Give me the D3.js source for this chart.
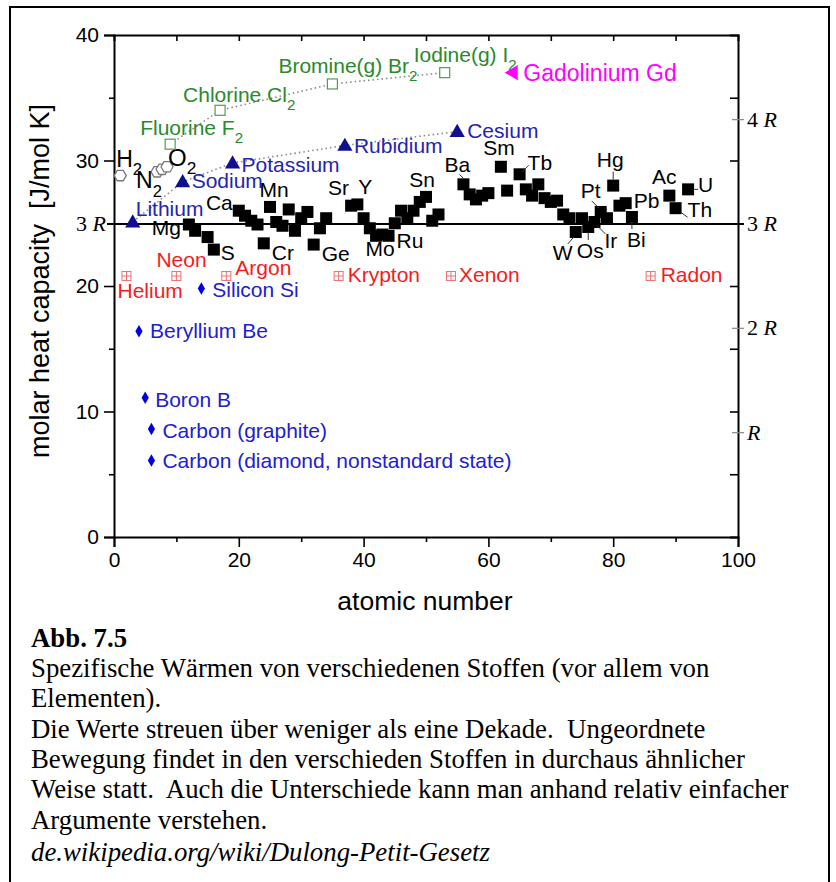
<!DOCTYPE html>
<html><head><meta charset="utf-8">
<script src="https://cdn.jsdelivr.net/npm/d3@7"></script>
<style>body{margin:0;background:#fff}svg{display:block}</style>
</head><body>
<svg id="chart" width="836" height="882"></svg>
<script>
// ---------------- data ----------------
const R = 8.314;
const xTicks = [0, 20, 40, 60, 80, 100];
const yTicks = [0, 10, 20, 30, 40];
const rTicks = [1, 2, 3, 4];
const rTickLabels = ["R", "2 R", "3 R", "4 R"];

// solids (black squares): atomic number, molar heat capacity
const solidZ = [12,13,15,16,20,21,22,23,24,25,26,27,28,29,30,31,32,33,34,38,39,40,41,42,43,44,45,46,47,48,49,50,51,52,56,57,58,59,60,62,63,65,66,67,68,69,70,71,72,73,74,75,76,77,78,79,80,81,82,83,89,90,92];
const solidCp = [24.9,24.4,23.9,22.9,26.0,25.6,25.2,24.9,23.4,26.3,25.1,24.8,26.1,24.4,25.4,25.9,23.3,24.6,25.4,26.4,26.5,25.4,24.6,24.0,24.1,24.0,25.0,26.0,25.4,26.0,26.7,27.1,25.2,25.7,28.1,27.3,26.9,27.2,27.4,29.5,27.6,28.9,27.7,27.2,28.1,27.0,26.7,26.8,25.7,25.4,24.3,25.4,24.7,25.1,25.9,25.4,28.0,26.4,26.6,25.5,27.2,26.2,27.7];
const solidLabelZ = [12,16,20,24,25,32,38,39,42,44,50,56,62,65,80,78,82,89,92,90,74,76,77,83];
const solidLabelText = ["Mg","S","Ca","Cr","Mn","Ge","Sr","Y","Mo","Ru","Sn","Ba","Sm","Tb","Hg","Pt","Pb","Ac","U","Th","W","Os","Ir","Bi"];

// diatomic gases (hexagons)
const gasZ = [1, 6.9, 7.7, 8.5];
const gasCp = [28.8, 29.1, 29.3, 29.5];

// halogens (open green squares)
const halogenZ = [9, 17, 35, 53];
const halogenCp = [31.3, 34.0, 36.1, 37.0];
const halogenNames = ["Fluorine F", "Chlorine Cl", "Bromine(g) Br", "Iodine(g) I"];

// alkali metals (blue triangles)
const alkaliZ = [3, 11, 19, 37, 55];
const alkaliCp = [25.1, 28.3, 29.8, 31.2, 32.3];
const alkaliNames = ["Lithium", "Sodium", "Potassium", "Rubidium", "Cesium"];

// noble gases
const nobleZ = [2, 10, 18, 36, 54, 86];
const nobleCp = [20.8, 20.8, 20.8, 20.8, 20.8, 20.8];
const nobleNames = ["Helium", "Neon", "Argon", "Krypton", "Xenon", "Radon"];

// light solids (blue diamonds)
const lightZ = [14, 4, 5, 6, 6];
const lightCp = [19.8, 16.4, 11.1, 8.6, 6.1];
const lightNames = ["Silicon Si", "Beryllium Be", "Boron B", "Carbon (graphite)", "Carbon (diamond, nonstandard state)"];

// gadolinium
const gdZ = [64];
const gdCp = [37.0];
const gdNames = ["Gadolinium Gd"];

const captionTitle = "Abb. 7.5";
const captionLines = [
  "Spezifische Wärmen von verschiedenen Stoffen (vor allem von",
  "Elementen).",
  "Die Werte streuen über weniger als eine Dekade.\u00a0 Ungeordnete",
  "Bewegung findet in den verschieden Stoffen in durchaus ähnlicher",
  "Weise statt.\u00a0 Auch die Unterschiede kann man anhand relativ einfacher",
  "Argumente verstehen."
];
const captionLink = "de.wikipedia.org/wiki/Dulong-Petit-Gesetz";

// ---------------- layout (pixel offsets of labels from their marker) ----------------
const solidLabelLayout = [
  {dx:-8,dy:10,a:"end"},{dx:7,dy:10,a:"start"},{dx:-6,dy:-1,a:"end"},{dx:8,dy:17,a:"start"},
  {dx:4,dy:-10,a:"middle"},{dx:8,dy:16,a:"start"},{dx:-2,dy:-11,a:"end"},{dx:1,dy:-10,a:"start"},
  {dx:4,dy:20,a:"middle"},{dx:8,dy:12,a:"start"},{dx:-4,dy:-10,a:"middle"},{dx:-6,dy:-12,a:"middle"},
  {dx:-2,dy:-12,a:"middle"},{dx:8,dy:-4,a:"start"},{dx:-3,dy:-19,a:"middle"},{dx:-10,dy:-14,a:"middle"},
  {dx:8,dy:5,a:"start"},{dx:-5,dy:-12,a:"middle"},{dx:10,dy:3,a:"start"},{dx:12,dy:9,a:"start"},
  {dx:-13,dy:28,a:"middle"},{dx:2,dy:31,a:"middle"},{dx:10,dy:26,a:"start"},{dx:-5,dy:30,a:"start"}
];
const leaderLines = { // offsets from marker [x1,y1,x2,y2]
  Tb:[2,-2,9,-9], Hg:[0,-6,0,-14], Pt:[-2,-4,-9,-11], Ir:[2,3,11,12], Bi:[0,5,0,12],
  Os:[0,5,0,13], W:[-2,5,-8,12], Th:[5,4,12,9], U:[6,0,10,0], Ba:[0,-6,-4,-10]
};

// ---------------- drawing ----------------
const svg = d3.select("#chart");
const SANS = "'Liberation Sans', Arial, Helvetica, sans-serif";
const SERIF = "'Liberation Serif', 'Times New Roman', serif";

svg.append("rect").attr("x", 10).attr("y", 7).attr("width", 819).attr("height", 900)
  .attr("fill", "none").attr("stroke", "#000").attr("stroke-width", 2);

const x = d3.scaleLinear().domain([0, 100]).range([114, 738]);
const y = d3.scaleLinear().domain([0, 40]).range([537, 35]);

const g = svg.append("g");

function styleAxis(sel) {
  sel.select(".domain").attr("stroke", "#000").attr("stroke-width", 2);
  sel.selectAll(".tick line").attr("stroke", "#000").attr("stroke-width", 1.6);
  sel.selectAll(".tick text").attr("font-family", SANS).attr("font-size", 21).attr("fill", "#000");
}

// bottom axis
const bottom = g.append("g").attr("transform", `translate(0,${y(0)})`)
  .call(d3.axisBottom(x).tickValues(xTicks).tickSize(10).tickPadding(5).tickFormat(d3.format("d")));
styleAxis(bottom);
g.append("g").attr("transform", `translate(0,${y(0)})`)
  .call(d3.axisBottom(x).tickValues(d3.range(10, 100, 20)).tickSize(5).tickFormat(""))
  .call(s => { s.select(".domain").remove(); s.selectAll("line").attr("stroke", "#000").attr("stroke-width", 1.6); });

// left axis
const left = g.append("g").attr("transform", `translate(${x(0)},0)`)
  .call(d3.axisLeft(y).tickValues(yTicks).tickSize(10).tickPadding(5));
styleAxis(left);
g.append("g").attr("transform", `translate(${x(0)},0)`)
  .call(d3.axisLeft(y).tickValues([5, 15, 25, 35]).tickSize(5).tickFormat(""))
  .call(s => { s.select(".domain").remove(); s.selectAll("line").attr("stroke", "#000").attr("stroke-width", 1.6); });

// top axis (inward ticks)
g.append("g").attr("transform", `translate(0,${y(40)})`)
  .call(d3.axisBottom(x).tickValues(d3.range(10, 100, 10)).tickSize(6).tickFormat(""))
  .call(s => { s.select(".domain").attr("stroke", "#000").attr("stroke-width", 2); s.selectAll("line").attr("stroke", "#000").attr("stroke-width", 1.6); });

// right axis (inward ticks)
g.append("g").attr("transform", `translate(${x(100)},0)`)
  .call(d3.axisLeft(y).tickValues([5, 10, 15, 20, 30, 35]).tickSize(8).tickFormat(""))
  .call(s => { s.select(".domain").attr("stroke", "#000").attr("stroke-width", 2); s.selectAll("line").attr("stroke", "#000").attr("stroke-width", 1.6); });

// R ticks on right
const rg = g.append("g");
rTicks.forEach((k, i) => {
  const yy = y(k * R);
  if (k !== 3) rg.append("line").attr("x1", x(100) - 6).attr("x2", x(100) + 6).attr("y1", yy).attr("y2", yy)
    .attr("stroke", "#888").attr("stroke-width", 1.2);
  const t = rg.append("text").attr("x", x(100) + 9).attr("y", yy + 7)
    .attr("font-family", SERIF).attr("font-size", 22).attr("fill", "#000");
  const parts = rTickLabels[i].split("R");
  if (parts[0]) t.append("tspan").text(parts[0]);
  t.append("tspan").attr("font-style", "italic").text("R");
});

// 3R line
g.append("line").attr("x1", x(0) - 7).attr("x2", x(100) + 6).attr("y1", y(3 * R)).attr("y2", y(3 * R))
  .attr("stroke", "#000").attr("stroke-width", 2);
const t3 = g.append("text").attr("x", x(0) - 8).attr("y", y(3 * R) + 7).attr("text-anchor", "end")
  .attr("font-family", SERIF).attr("font-size", 22);
t3.append("tspan").text("3 ");
t3.append("tspan").attr("font-style", "italic").text("R");

// axis titles
g.append("text").attr("x", x(50) - 1).attr("y", 610).attr("text-anchor", "middle")
  .attr("font-family", SANS).attr("font-size", 26.5).text("atomic number");
g.append("text").attr("transform", `translate(49,${281}) rotate(-90)`).attr("text-anchor", "middle")
  .attr("font-family", SANS).attr("font-size", 27)
  .text("molar heat capacity\u00a0\u00a0[J/mol K]");

// helper: label with optional subscript
function label(px, py, main, sub, opt) {
  const t = g.append("text").attr("x", px).attr("y", py)
    .attr("font-family", SANS).attr("font-size", opt.size || 21).attr("fill", opt.color || "#000")
    .attr("text-anchor", opt.anchor || "start");
  t.append("tspan").text(main);
  if (sub) t.append("tspan").attr("dy", opt.subDy || 8).attr("font-size", (opt.size || 21) * 0.72).text(sub);
  return t;
}

// dotted guide lines
const dotted = d3.line().x(d => x(d[0])).y(d => y(d[1]));
g.append("path").attr("d", dotted(halogenZ.map((z, i) => [z, halogenCp[i]])))
  .attr("fill", "none").attr("stroke", "#8a8a8a").attr("stroke-width", 1.6).attr("stroke-dasharray", "1.5,3");
g.append("path").attr("d", dotted(alkaliZ.map((z, i) => [z, alkaliCp[i]])))
  .attr("fill", "none").attr("stroke", "#8a8a8a").attr("stroke-width", 1.6).attr("stroke-dasharray", "1.5,3");

// solids
const SQ = 12;
g.append("g").selectAll("rect").data(solidZ.map((z, i) => [z, solidCp[i]])).join("rect")
  .attr("x", d => x(d[0]) - SQ / 2).attr("y", d => y(d[1]) - SQ / 2)
  .attr("width", SQ).attr("height", SQ).attr("fill", "#000");

// leader lines + solid labels
solidLabelZ.forEach((z, i) => {
  const cp = solidCp[solidZ.indexOf(z)];
  const px = x(z), py = y(cp);
  const name = solidLabelText[i];
  const L = solidLabelLayout[i];
  if (leaderLines[name]) {
    const l = leaderLines[name];
    g.append("line").attr("x1", px + l[0]).attr("y1", py + l[1]).attr("x2", px + l[2]).attr("y2", py + l[3])
      .attr("stroke", "#333").attr("stroke-width", 1);
  }
  label(px + L.dx, py + L.dy, name, null, {anchor: L.a, size: 21, color: "#000"});
});

// hexagons (diatomic gases)
function hexPath(r) {
  const pts = d3.range(6).map(k => [r * Math.cos(Math.PI / 3 * k), r * Math.sin(Math.PI / 3 * k)]);
  return "M" + pts.map(p => p.join(",")).join("L") + "Z";
}
g.append("g").selectAll("path").data(gasZ.map((z, i) => [z, gasCp[i]])).join("path")
  .attr("transform", d => `translate(${x(d[0])},${y(d[1])})`).attr("d", hexPath(6))
  .attr("fill", "#fff").attr("stroke", "#777").attr("stroke-width", 1.3);
{
  const h = [x(gasZ[0]), y(gasCp[0])];
  label(h[0] - 4, h[1] - 9, "H", "2", {size: 23, subDy: 8});
  const n = [x(gasZ[1]), y(gasCp[1])];
  label(n[0] - 21, n[1] + 16, "N", "2", {size: 23, subDy: 9});
  const o = [x(gasZ[3]), y(gasCp[3])];
  label(o[0] + 1, o[1] - 1, "O", "2", {size: 24, subDy: 8});
}

// halogens
g.append("g").selectAll("rect").data(halogenZ.map((z, i) => [z, halogenCp[i]])).join("rect")
  .attr("x", d => x(d[0]) - 5).attr("y", d => y(d[1]) - 5).attr("width", 10).attr("height", 10)
  .attr("fill", "#fff").attr("stroke", "#4f9f4f").attr("stroke-width", 1.2);
const halLayout = [[-30, -9], [-37, -8], [-54, -11], [-31, -11]];
halogenZ.forEach((z, i) => label(x(z) + halLayout[i][0], y(halogenCp[i]) + halLayout[i][1], halogenNames[i], "2",
  {color: "#2b8a2b", size: 21, subDy: 8}));

// alkali metals
const tri = d3.symbol().type(d3.symbolTriangle).size(100);
g.append("g").selectAll("path").data(alkaliZ.map((z, i) => [z, alkaliCp[i]])).join("path")
  .attr("transform", d => `translate(${x(d[0])},${y(d[1]) + 1})`).attr("d", tri).attr("fill", "#10108f");
const alkLayout = [[3, -6], [9, 6], [9, 9], [9, 8], [10, 6]];
alkaliZ.forEach((z, i) => label(x(z) + alkLayout[i][0], y(alkaliCp[i]) + alkLayout[i][1], alkaliNames[i], null,
  {color: "#2424b4", size: 21}));

// gadolinium
g.append("g").selectAll("path").data(gdZ.map((z, i) => [z, gdCp[i]])).join("path")
  .attr("transform", d => `translate(${x(d[0])},${y(d[1])}) rotate(-90)`).attr("d", tri).attr("fill", "#ff00ff");
gdZ.forEach((z, i) => label(x(z) + 10, y(gdCp[i]) + 8, gdNames[i], null, {color: "#ff00ff", size: 23}));

// noble gases
const ng = g.append("g").selectAll("g").data(nobleZ.map((z, i) => [z, nobleCp[i]])).join("g")
  .attr("transform", d => `translate(${x(d[0])},${y(d[1])})`);
ng.append("rect").attr("x", -4.5).attr("y", -4.5).attr("width", 9).attr("height", 9)
  .attr("fill", "#fff").attr("stroke", "#f07070").attr("stroke-width", 1);
ng.append("path").attr("d", "M-4.5,0H4.5M0,-4.5V4.5").attr("stroke", "#f07070").attr("stroke-width", 1);
const nobleLayout = [[-9, 22], [-20, -9], [9, -1], [9, 6], [8, 6], [10, 6]];
nobleZ.forEach((z, i) => label(x(z) + nobleLayout[i][0], y(nobleCp[i]) + nobleLayout[i][1], nobleNames[i], null,
  {color: "#f41c1c", size: 21}));

// light solids (diamonds)
const dia = d3.symbol().type(d3.symbolDiamond).size(45);
g.append("g").selectAll("path").data(lightZ.map((z, i) => [z, lightCp[i]])).join("path")
  .attr("transform", d => `translate(${x(d[0])},${y(d[1])})`).attr("d", dia).attr("fill", "#0000e6");
const lightLayout = [[11, 8], [11, 7], [10, 9], [11, 9], [11, 8]];
lightZ.forEach((z, i) => label(x(z) + lightLayout[i][0], y(lightCp[i]) + lightLayout[i][1], lightNames[i], null,
  {color: "#2020d0", size: 21}));

// caption
const cap = svg.append("g").attr("font-family", SERIF).attr("font-size", 26.8).attr("fill", "#000");
cap.append("text").attr("x", 31).attr("y", 647).attr("font-weight", "bold").text(captionTitle);
captionLines.forEach((s, i) => cap.append("text").attr("x", 31).attr("y", 677 + i * 30.3).text(s));
cap.append("text").attr("x", 31).attr("y", 677 + 6 * 30.3 + 2).attr("font-style", "italic").text(captionLink);
</script>
</body></html>
